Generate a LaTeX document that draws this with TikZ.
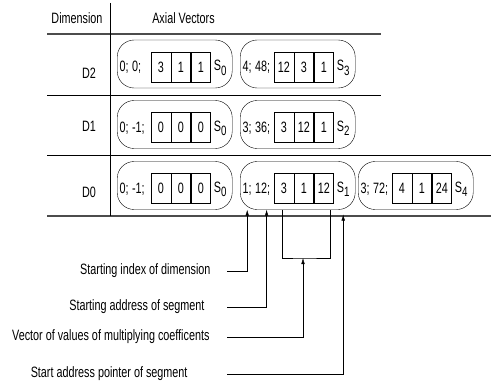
\documentclass[tikz,border=0pt]{standalone}
\usepackage{fontspec}
\setmainfont{Liberation Sans}[FakeStretch=0.72]
\usetikzlibrary{positioning,arrows.meta}

\newcommand{\segsub}[1]{\raisebox{-4.5pt}{\fontsize{13.5}{15}\selectfont #1}}

\begin{document}
\begin{tikzpicture}[x=1pt,y=-1pt,font=\fontsize{15}{17}\selectfont,
    seg/.style={draw,rounded corners=17pt,minimum width=115pt,minimum height=48pt,inner sep=0pt},
    cell/.style={draw,minimum width=19.5pt,minimum height=30pt,inner sep=0pt},
    txt/.style={inner sep=0pt},
    thickrule/.style={draw=black!70,line width=1.4pt},
    thinrule/.style={line width=0.8pt},
    arr/.style={-{Latex[length=6pt,width=3.5pt]}}]
    \useasboundingbox (0,0) rectangle (494,385);

    % table header
    \node (dim) at (77,18) {Dimension};
    \node (axial) at (183.5,18) {Axial Vectors};
    \draw[thickrule] (47,34) -- (381,34);
    \draw[thinrule] (47,95) -- (381,95);
    \draw[thinrule] (47,155) -- (491,155);
    \draw[thickrule] (47,216) -- (491,216);
    \draw[thinrule] (110,3) -- (110,216);

    \node (d2) at (89,73) {D2};
    \node (d1) at (89,126) {D1};
    \node (d0) at (89,192) {D0};

    % segments
    \foreach \n/\x/\y/\i/\a/\p/\q/\r/\s in {
        s20/117/64/0;/0;/3/1/1/0,
        s23/240/64/4;/48;/12/3/1/3,
        s10/117/124.5/0;/-1;/0/0/0/0,
        s12/240/124.5/3;/36;/3/12/1/2,
        s00/117/185.5/0;/-1;/0/0/0/0,
        s01/240/185.5/1;/12;/3/1/12/1,
        s04/358/185.5/3;/72;/4/1/24/4} {
      \node[seg,anchor=west] (\n) at (\x,\y) {};
      \node[txt,anchor=west] (\n-i) at (\x+2.5,\y+3.5) {\i};
      \node[txt,right=3pt of \n-i] (\n-a) {\a};
      \node[cell,anchor=west] (\n-c1) at (\x+34,\y+3) {\p};
      \node[cell,right=0pt of \n-c1] (\n-c2) {\q};
      \node[cell,right=0pt of \n-c2] (\n-c3) {\r};
      \node[txt,anchor=west] (\n-s) at ([xshift=3pt,yshift=-1pt]\n-c3.east) {S\segsub{\s}};
    }

    % legend
    \node[anchor=east] (lidx) at (214,271) {Starting index of dimension};
    \node[anchor=east] (laddr) at (208,307) {Starting address of segment};
    \node[anchor=east] (lvec) at (213,337) {Vector of values of multiplying coefficents};
    \node[anchor=east] (lptr) at (191,374) {Start address pointer of segment};
    \coordinate (gutter) at (227,0);
    \coordinate (brk) at (303,258);

    \draw[arr] (lidx -| gutter) -| (s01-i |- s01.south);
    \draw[arr] (laddr -| gutter) -| ([xshift=4pt]s01-a.center |- s01.south);
    \draw ([xshift=-1.5pt]s01-c1.south |- s01.south) |- (brk) -| ([xshift=-4pt]s01-c3.south east |- s01.south);
    \draw[arr] (lvec -| gutter) -| (brk);
    \draw[arr] (lptr -| gutter) -| ([yshift=1.5pt]s01-s |- 0,216);
\end{tikzpicture}
\end{document}
